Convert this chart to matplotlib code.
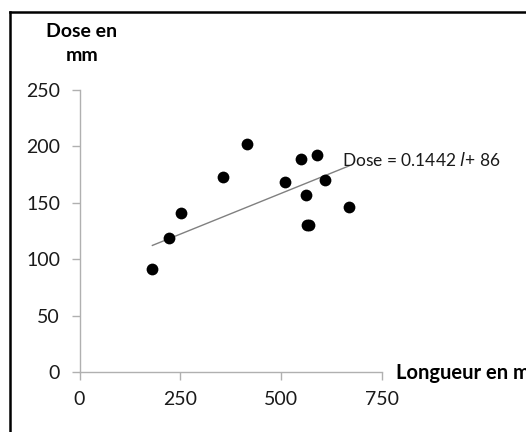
import matplotlib
matplotlib.use("Agg")
import matplotlib.pyplot as plt
from matplotlib.lines import Line2D
import numpy as np

plt.rcParams['font.family'] = ['Lato', 'DejaVu Sans']

longueur = [181, 222, 252, 356, 415, 511, 551, 563, 565, 571, 590, 609, 669]
dose = [91, 119, 141, 173, 202, 168, 189, 157, 130, 130, 192, 170, 146]
slope = 0.1442
intercept = 86
x_ticks = [0, 250, 500, 750]
y_ticks = [0, 50, 100, 150, 200, 250]

W, H = 526, 432
fig = plt.figure(figsize=(W / 100, H / 100), dpi=100)
ax = fig.add_axes([79.5 / W, 60 / H, 302 / W, 282.3 / H])

gray_axis = '#b0b0b0'
ax.scatter(longueur, dose, s=72, color='black', zorder=3, linewidths=0)
xl = np.array([min(longueur), max(longueur)])
ax.plot(xl, slope * xl + intercept, color='#808080', lw=1.0, zorder=2)

ax.set_xlim(0, 750)
ax.set_ylim(0, 250)
ax.set_xticks(x_ticks)
ax.set_yticks(y_ticks)
for s in ['top', 'right']:
    ax.spines[s].set_visible(False)
for s in ['left', 'bottom']:
    ax.spines[s].set_color(gray_axis)
    ax.spines[s].set_linewidth(1.0)
ax.tick_params(axis='both', colors=gray_axis, labelcolor='#1a1a1a', labelsize=14,
               length=6, width=1.0, direction='out')
ax.tick_params(axis='y', pad=8)
ax.tick_params(axis='x', pad=8)
ax.patch.set_alpha(0)

fig.text(342 / W, 1 - 160 / H, r'Dose = 0.1442 $\it{l}$+ 86', fontsize=12.5,
         color='#1a1a1a', ha='left', va='center')

fig.text(82 / W, 1 - 43.5 / H, 'Dose en\nmm', fontsize=14, fontweight='bold',
         ha='center', va='center', multialignment='center', linespacing=1.5,
         color='black')
fig.text(396 / W, 1 - 373 / H, 'Longueur en mm', fontsize=14.5, fontweight='bold',
         ha='left', va='center', color='black')

fig.add_artist(Line2D([10 / W, 1.01], [1 - 12 / H, 1 - 12 / H],
                      transform=fig.transFigure, color='black', lw=1.8))
fig.add_artist(Line2D([10 / W, 10 / W], [1 - 12 / H, -0.01],
                      transform=fig.transFigure, color='black', lw=1.8))

fig.savefig('out.png', dpi=100)
